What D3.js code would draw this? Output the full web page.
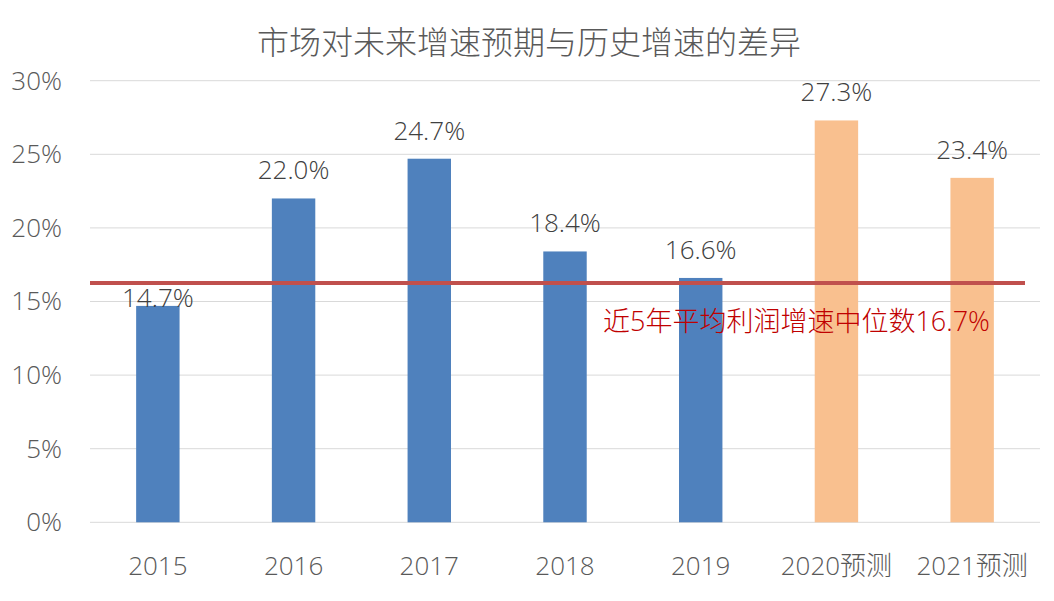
<!DOCTYPE html>
<html><head><meta charset="utf-8">
<script src="https://cdn.jsdelivr.net/npm/d3@7"></script>
<style>body{margin:0;background:#fff}svg{display:block}text{font-family:"Open Sans","Noto Sans CJK SC",sans-serif;font-weight:300}</style>
</head><body><svg id="c" width="1054" height="601"></svg>
<script>
const categories = ["2015","2016","2017","2018","2019","2020预测","2021预测"];
const values = [14.7, 22.0, 24.7, 18.4, 16.6, 27.3, 23.4];
const isForecast = [false,false,false,false,false,true,true];
const yTicks = [0,5,10,15,20,25,30];
const medianLineValue = 16.25;
const medianLabel = "近5年平均利润增速中位数16.7%";
const title = "市场对未来增速预期与历史增速的差异";

const svg = d3.select("#c");
const x = d3.scaleBand().domain(categories).range([90,1040]).paddingInner(0.68).paddingOuter(0.34);
const y = d3.scaleLinear().domain([0,30]).range([522.3,80.7]);

svg.append("text").attr("x",529).attr("y",54).attr("text-anchor","middle")
  .attr("font-size",32).attr("fill","#595959").text(title);

// grid
svg.append("g").selectAll("line").data(yTicks).join("line")
  .attr("x1",90).attr("x2",1040).attr("y1",d=>y(d)).attr("y2",d=>y(d))
  .attr("stroke","#d9d9d9").attr("stroke-width",1);

// y axis labels
const ya = svg.append("g").attr("transform","translate(62,0)")
  .call(d3.axisLeft(y).tickValues(yTicks).tickFormat(d=>d+"%").tickSize(0).tickPadding(0));
ya.select(".domain").remove();
ya.selectAll("text").attr("font-size",26).attr("fill","#595959").attr("font-family",null);

// x axis labels
const xa = svg.append("g").attr("transform","translate(0,522.3)")
  .call(d3.axisBottom(x).tickSize(0).tickPadding(34));
xa.select(".domain").remove();
xa.selectAll("text").attr("font-size",26).attr("fill","#595959").attr("font-family",null);

// bars
svg.append("g").selectAll("rect").data(categories).join("rect")
  .attr("x",d=>x(d)).attr("width",x.bandwidth())
  .attr("y",(d,i)=>y(values[i])).attr("height",(d,i)=>y(0)-y(values[i]))
  .attr("fill",(d,i)=>isForecast[i]?"#F9C08F":"#4F81BD");

// value labels
const labelDy = [1, -19, -19, -19, -19, -19, -19];
svg.append("g").selectAll("text").data(categories).join("text")
  .attr("x",d=>x(d)+x.bandwidth()/2).attr("y",(d,i)=>y(values[i])+labelDy[i])
  .attr("text-anchor","middle").attr("font-size",26).attr("fill","#404040")
  .text((d,i)=>values[i].toFixed(1)+"%");

// median line
svg.append("line").attr("x1",90).attr("x2",1025)
  .attr("y1",y(medianLineValue)).attr("y2",y(medianLineValue))
  .attr("stroke","#C0504D").attr("stroke-width",4);
svg.append("text").attr("x",603).attr("y",331).attr("font-size",27)
  .attr("font-weight",400).attr("fill","#C00000").text(medianLabel);
</script></body></html>
